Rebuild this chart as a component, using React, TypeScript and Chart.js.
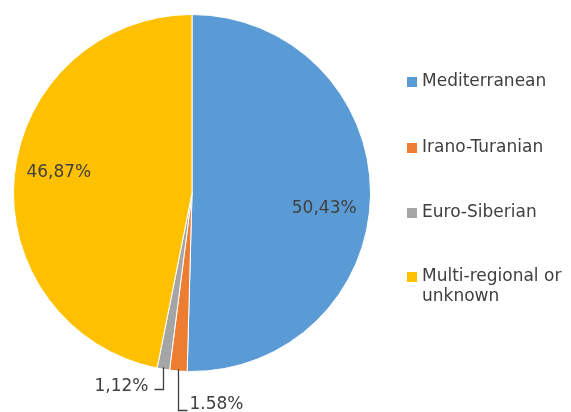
import React, { useEffect, useRef } from "react";
import { Chart, registerables } from "chart.js";

Chart.register(...registerables);

const categories = ["Mediterranean", "Irano-Turanian", "Euro-Siberian", "Multi-regional or unknown"];
const legendLines = [["Mediterranean"], ["Irano-Turanian"], ["Euro-Siberian"], ["Multi-regional or", "unknown"]];
const values = [50.43, 1.58, 1.12, 46.87];
const valueLabels = ["50,43%", "1.58%", "1,12%", "46,87%"];
const colors = ["#5B9BD5", "#ED7D31", "#A5A5A5", "#FFC000"];

const FONT = "'DejaVu Sans', sans-serif";
const TEXT = "#404040";

// label placement style: [angleOffsetDeg, radiusFraction] for inside labels
const insideStyle: Record<number, [number, number]> = { 0: [6.1, 0.746], 3: [3.1, 0.755] };

const labelPlugin = {
  id: "labelsAndLegend",
  afterDraw(chart: any) {
    const ctx = chart.ctx;
    const meta = chart.getDatasetMeta(0);
    ctx.save();
    ctx.font = `17px ${FONT}`;
    ctx.fillStyle = TEXT;
    ctx.textBaseline = "middle";
    meta.data.forEach((arc: any, i: number) => {
      const { x, y, startAngle, endAngle, outerRadius } = arc.getProps(["x", "y", "startAngle", "endAngle", "outerRadius"], true);
      const mid = (startAngle + endAngle) / 2;
      if (insideStyle[i]) {
        const [off, frac] = insideStyle[i];
        const a = mid + (off * Math.PI) / 180;
        ctx.textAlign = "center";
        ctx.fillText(valueLabels[i], x + Math.cos(a) * outerRadius * frac, y + Math.sin(a) * outerRadius * frac);
      } else {
        const ex = Math.round(x + Math.cos(mid) * outerRadius) + 0.5;
        const ey = y + Math.sin(mid) * outerRadius - 2;
        ctx.strokeStyle = "#404040";
        ctx.lineWidth = 1.3;
        ctx.beginPath();
        if (i === 1) {
          const by = Math.round(y + outerRadius + 38) + 0.5;
          ctx.moveTo(ex, ey);
          ctx.lineTo(ex, by);
          ctx.lineTo(ex + 9, by);
          ctx.stroke();
          ctx.textAlign = "left";
          ctx.fillText(valueLabels[i], ex + 11, by - 6);
        } else {
          const by = Math.round(y + outerRadius + 17) + 0.5;
          ctx.moveTo(ex, ey);
          ctx.lineTo(ex, by);
          ctx.lineTo(ex - 9, by);
          ctx.stroke();
          ctx.textAlign = "right";
          ctx.fillText(valueLabels[i], ex - 15, by - 3);
        }
      }
    });

    // legend
    const lx = 407;
    const tops = [82, 148, 213, 277];
    ctx.textAlign = "left";
    legendLines.forEach((lines, i) => {
      ctx.fillStyle = colors[i];
      ctx.fillRect(lx, tops[i] - 5, 10, 10);
      ctx.fillStyle = TEXT;
      lines.forEach((t, j) => ctx.fillText(t, lx + 15, tops[i] + j * 20));
    });
    ctx.restore();
  },
};

export default function App() {
  const ref = useRef<HTMLCanvasElement>(null);
  useEffect(() => {
    document.body.style.margin = "0";
    const chart = new Chart(ref.current!, {
      type: "pie",
      data: {
        labels: categories,
        datasets: [
          {
            data: values,
            backgroundColor: colors,
            borderColor: "#ffffff",
            borderWidth: 1,
          },
        ],
      },
      options: {
        animation: false,
        responsive: true,
        maintainAspectRatio: false,
        layout: { padding: { left: 13, top: 14, right: 200, bottom: 40 } },
        plugins: { legend: { display: false }, tooltip: { enabled: false } },
      },
      plugins: [labelPlugin],
    });
    return () => chart.destroy();
  }, []);
  return (
    <div style={{ width: 571, height: 412, position: "relative", background: "#fff" }}>
      <canvas ref={ref} />
    </div>
  );
}
